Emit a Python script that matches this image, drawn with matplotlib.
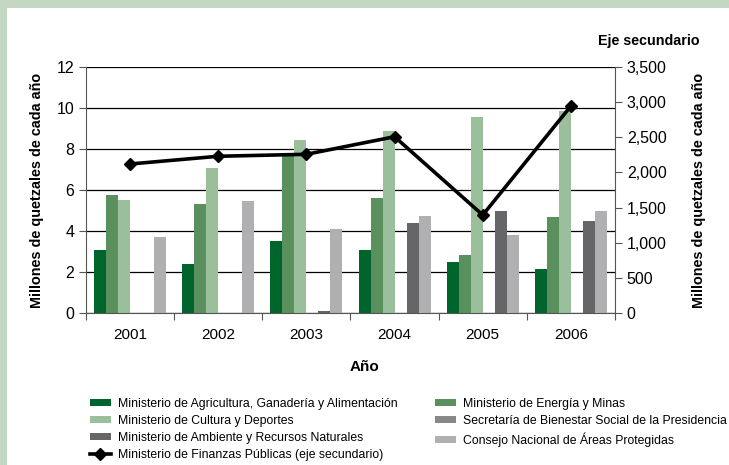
import matplotlib
matplotlib.use("Agg")
import matplotlib.pyplot as plt
import numpy as np
from matplotlib.patches import Rectangle

plt.rcParams['font.family'] = ['Liberation Sans', 'DejaVu Sans']

years = ["2001", "2002", "2003", "2004", "2005", "2006"]
agricultura = [3.05, 2.4, 3.5, 3.05, 2.5, 2.15]
energia = [5.75, 5.3, 7.7, 5.6, 2.85, 4.7]
cultura = [5.5, 7.05, 8.45, 8.9, 9.55, 9.85]
bienestar = [0, 0, 0, 0, 0, 0]
ambiente = [0, 0, 0.1, 4.4, 5.0, 4.5]
conap = [3.7, 5.45, 4.1, 4.75, 3.8, 5.0]
finanzas = [2120, 2230, 2258, 2508, 1394, 2945]

series = [
    ("Ministerio de Agricultura, Ganadería y Alimentación", agricultura, "#00652c"),
    ("Ministerio de Energía y Minas", energia, "#5a8f5e"),
    ("Ministerio de Cultura y Deportes", cultura, "#9cbf9b"),
    ("Secretaría de Bienestar Social de la Presidencia", bienestar, "#888888"),
    ("Ministerio de Ambiente y Recursos Naturales", ambiente, "#666668"),
    ("Consejo Nacional de Áreas Protegidas", conap, "#b0b0b3"),
]
line_label = "Ministerio de Finanzas Públicas (eje secundario)"

fig = plt.figure(figsize=(7.29, 4.65), dpi=100)
fig.patch.set_facecolor("#c3d7c3")
bg = Rectangle((7/729, 0), 1, 1 - 8/465, transform=fig.transFigure,
               facecolor="white", edgecolor="none", zorder=-10)
fig.patches.append(bg)

ax = fig.add_axes([86/729, 1 - 313/465, (615-86)/729, (313-67)/465])
ax.set_facecolor("none")
x = np.arange(len(years))
n = len(series)
w = 12/88.2
handles = {}
for i, (lab, vals, col) in enumerate(series):
    offs = (i - (n-1)/2) * w
    h = ax.bar(x + offs, vals, width=w, color=col, label=lab, zorder=2, linewidth=0)
    handles[lab] = h

ax.set_xlim(-0.5, len(years) - 0.5)
ax.set_ylim(0, 12)
ax.set_yticks(np.arange(0, 13, 2))
ax.yaxis.grid(True, color="black", linewidth=0.9)
ax.set_axisbelow(True)
ax.set_xticks(x)
ax.set_xticklabels(years, fontsize=11)
ax.tick_params(axis='x', length=0, pad=11)
ax.set_xticks(np.arange(-0.5, len(years), 1), minor=True)
ax.tick_params(axis='x', which='minor', length=5, direction='out', width=0.8, color="#555555")
ax.tick_params(axis='y', labelsize=11.5, length=5, width=0.8, color="#555555")
for s in ["top", "right"]:
    ax.spines[s].set_visible(False)
ax.spines["left"].set_color("#555555")
ax.spines["bottom"].set_color("#555555")
ax.set_ylabel("Millones de quetzales de cada año", fontsize=10.4, fontweight="bold", labelpad=9)
ax.set_xlabel("Año", fontsize=11, fontweight="bold")
ax.xaxis.set_label_coords(0.527, -0.19)

ax2 = ax.twinx()
ln, = ax2.plot(x, finanzas, color="black", linewidth=2.6, marker="D", markersize=6.5,
               label=line_label, zorder=5)
ax2.set_ylim(0, 3500)
ax2.set_yticks(np.arange(0, 3501, 500))
ax2.set_yticklabels([f"{v:,}" for v in range(0, 3501, 500)])
ax2.tick_params(axis='y', labelsize=11.5, length=5, width=0.8, color="#555555")
for s in ["top", "left", "bottom"]:
    ax2.spines[s].set_visible(False)
ax2.spines["right"].set_color("#555555")
ax2.set_ylabel("Millones de quetzales de cada año", fontsize=10.4, fontweight="bold", labelpad=18)
fig.text(649/729, 1 - 41/465, "Eje secundario", fontsize=10.3, fontweight="bold",
         ha="center", va="center")

order = [series[0][0], series[2][0], series[4][0], None,
         series[1][0], series[3][0], series[5][0]]
hs, ls = [], []
for o in order:
    if o is None:
        hs.append(ln); ls.append(line_label)
    else:
        hs.append(handles[o]); ls.append(o)
leg = fig.legend(hs, ls, ncol=2, loc="upper left", bbox_to_anchor=(85/729, 1 - 393/465),
                 frameon=False, fontsize=8.8, handlelength=1.7, handleheight=0.5,
                 handletextpad=0.6, columnspacing=3.05, labelspacing=0.42,
                 borderaxespad=0, borderpad=0.4)

fig.savefig("out.png", dpi=100, facecolor=fig.get_facecolor())
